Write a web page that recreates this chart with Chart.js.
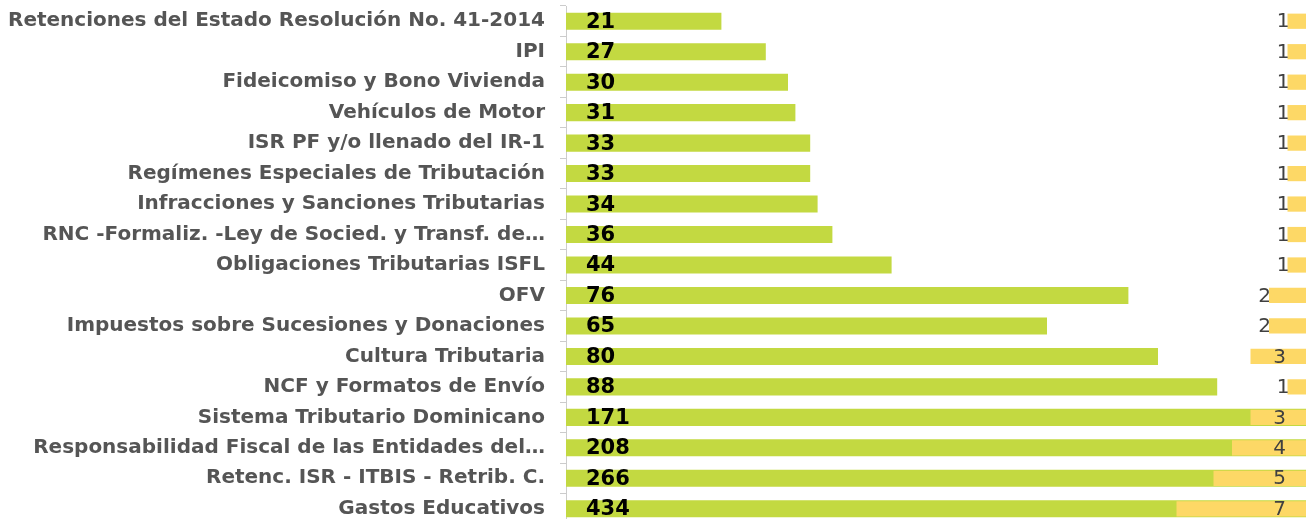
<!DOCTYPE html>
<html>
<head>
<meta charset="utf-8">
<script src="https://cdn.jsdelivr.net/npm/chart.js@4/dist/chart.umd.min.js"></script>
<style>
  html, body { margin: 0; padding: 0; background: #fff; overflow: hidden; }
  #wrap { position: relative; width: 1306px; height: 524px; }
</style>
</head>
<body>
<div id="wrap"><canvas id="chart"></canvas></div>
<script>
// categories (top to bottom)
var categories = [
  "Retenciones del Estado Resolución No. 41-2014",
  "IPI",
  "Fideicomiso y Bono Vivienda",
  "Vehículos de Motor",
  "ISR PF y/o llenado del IR-1",
  "Regímenes Especiales de Tributación",
  "Infracciones y Sanciones Tributarias",
  "RNC -Formaliz. -Ley de Socied. y Transf. de…",
  "Obligaciones Tributarias ISFL",
  "OFV",
  "Impuestos sobre Sucesiones y Donaciones",
  "Cultura Tributaria",
  "NCF y Formatos de Envío",
  "Sistema Tributario Dominicano",
  "Responsabilidad Fiscal de las Entidades del…",
  "Retenc. ISR - ITBIS - Retrib. C.",
  "Gastos Educativos"
];
// green series
var greenValues = [21, 27, 30, 31, 33, 33, 34, 36, 44, 76, 65, 80, 88, 171, 208, 266, 434];
// yellow series (drawn from the right)
var yellowValues = [1, 1, 1, 1, 1, 1, 1, 1, 1, 2, 2, 3, 1, 3, 4, 5, 7];

var labelFont = "'DejaVu Sans', sans-serif";

// draws the value labels on the bars
var valueLabels = {
  id: 'valueLabels',
  afterDatasetsDraw: function (chart) {
    var ctx = chart.ctx;
    var area = chart.chartArea;
    ctx.save();
    ctx.textBaseline = 'middle';
    chart.data.datasets.forEach(function (ds, i) {
      var meta = chart.getDatasetMeta(i);
      meta.data.forEach(function (bar, j) {
        var v = ds.data[j];
        if (ds.id === 'green') {
          ctx.font = "bold 21px " + labelFont;
          ctx.fillStyle = '#000';
          ctx.textAlign = 'left';
          ctx.fillText(v, bar.base + 20, bar.y + 1);
        } else {
          ctx.font = "20px " + labelFont;
          ctx.fillStyle = '#404040';
          ctx.textAlign = 'right';
          var left = Math.min(bar.x, bar.base);
          var x = v <= 2 ? left + 2 : area.right - 20;
          ctx.fillText(v, x, bar.y + 1);
        }
      });
    });
    ctx.restore();
  }
};

new Chart(document.getElementById('chart'), {
  type: 'bar',
  data: {
    labels: categories,
    datasets: [
      {
        id: 'green',
        data: greenValues,
        xAxisID: 'x',
        backgroundColor: '#c3d941',
        grouped: false,
        barPercentage: 0.56,
        categoryPercentage: 1,
        order: 2
      },
      {
        id: 'yellow',
        data: yellowValues,
        xAxisID: 'x2',
        backgroundColor: '#fdd866',
        grouped: false,
        barPercentage: 0.5,
        categoryPercentage: 1,
        order: 1
      }
    ]
  },
  options: {
    indexAxis: 'y',
    responsive: true,
    maintainAspectRatio: false,
    animation: false,
    layout: { padding: { top: 6, left: 0, right: 0, bottom: 0 } },
    plugins: {
      legend: { display: false },
      tooltip: { enabled: false }
    },
    scales: {
      x: { display: false, min: 0, max: 100 },
      x2: { display: false, min: 0, max: 40, reverse: true },
      y: {
        afterFit: function (scale) {
          scale.width = 566;
          scale.paddingTop = 0;
          scale.paddingBottom = 0;
        },
        border: { color: '#cccccc' },
        grid: { display: true, drawOnChartArea: false, tickLength: 6, color: '#cccccc' },
        ticks: {
          autoSkip: false,
          padding: 15,
          color: '#555555',
          font: { family: labelFont, size: 20, weight: 'bold' }
        }
      }
    }
  },
  plugins: [valueLabels]
});
</script>
</body>
</html>
